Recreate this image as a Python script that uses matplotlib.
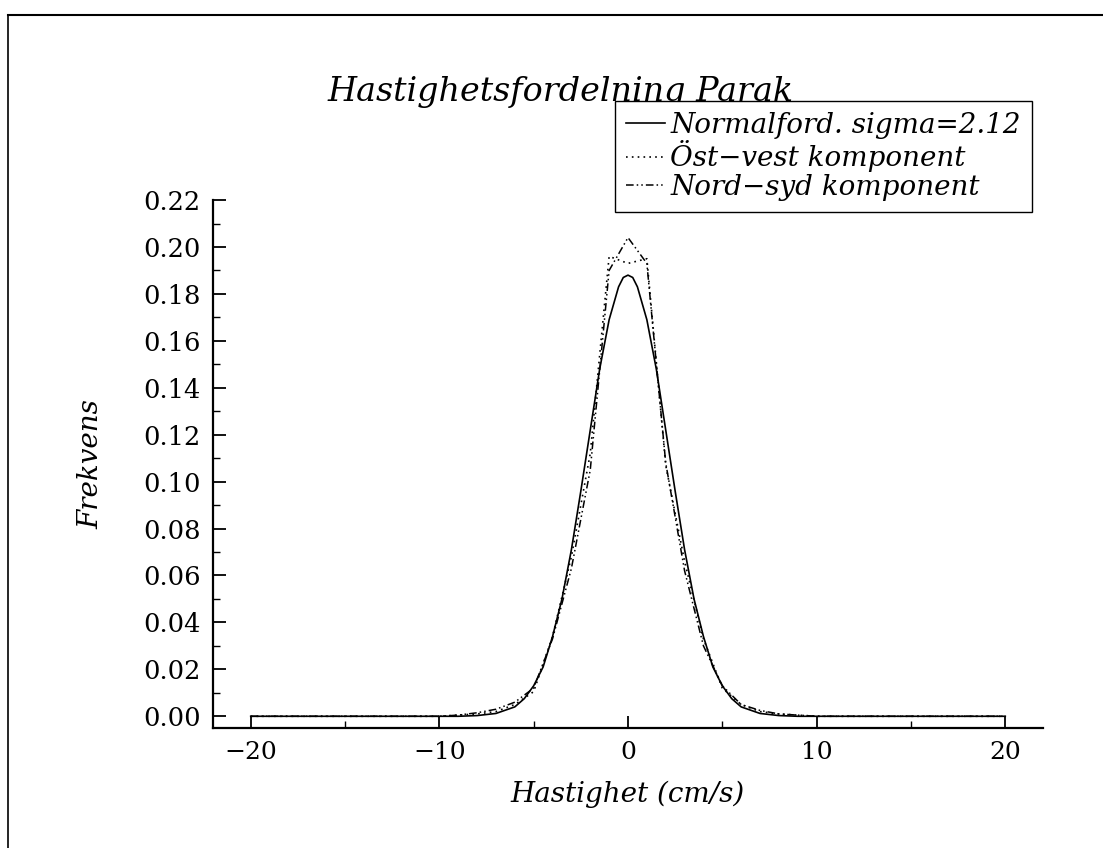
import matplotlib

matplotlib.use("Agg")
import matplotlib.pyplot as plt
from matplotlib.lines import Line2D
from matplotlib.ticker import MultipleLocator, FormatStrFormatter, FuncFormatter

# ---------------------------------------------------------------------------
# Data
# ---------------------------------------------------------------------------
TITLE = "Hastighetsfordelning Parak"
X_LABEL = "Hastighet (cm/s)"
Y_LABEL = "Frekvens"

LABEL_NORMAL = "Normalford. sigma=2.12"
LABEL_EW = "Öst\u2212vest komponent"
LABEL_NS = "Nord\u2212syd komponent"

# fitted normal curve (smooth)
normal_x = [-20, -9, -8, -7, -6, -5.5, -5, -4.5, -4, -3.5, -3, -2.5, -2, -1.5, -1,
            -0.5, -0.25, 0, 0.25, 0.5, 1, 1.5, 2, 2.5, 3, 3.5, 4, 4.5, 5, 5.5,
            6, 7, 8, 9, 20]
normal_y = [0.0, 0.0, 0.0003, 0.0012, 0.004, 0.0075, 0.013, 0.021, 0.034, 0.050,
            0.071, 0.096, 0.122, 0.148, 0.169, 0.183, 0.187, 0.188, 0.187, 0.183,
            0.169, 0.148, 0.122, 0.096, 0.071, 0.050, 0.034, 0.021, 0.013, 0.0075,
            0.004, 0.0012, 0.0003, 0.0, 0.0]

# measured components, 1 cm/s bins
bins_x = [-20, -19, -18, -17, -16, -15, -14, -13, -12, -11, -10, -9, -8, -7, -6,
          -5, -4, -3, -2, -1, 0, 1, 2, 3, 4, 5, 6, 7, 8, 9, 10, 11, 12, 13, 14,
          15, 16, 17, 18, 19, 20]
east_west = [0, 0, 0, 0, 0, 0, 0, 0, 0, 0, 0, 0.0005, 0.001, 0.002, 0.005,
             0.0105, 0.034, 0.068, 0.112, 0.196, 0.193, 0.195, 0.107, 0.066,
             0.033, 0.012, 0.005, 0.002, 0.001, 0.0005, 0, 0, 0, 0, 0, 0, 0, 0,
             0, 0, 0]
north_south = [0, 0, 0, 0, 0, 0, 0, 0, 0, 0, 0, 0.0005, 0.0015, 0.003, 0.006,
               0.012, 0.033, 0.063, 0.105, 0.190, 0.204, 0.193, 0.108, 0.062,
               0.030, 0.013, 0.005, 0.0025, 0.001, 0.0005, 0, 0, 0, 0, 0, 0, 0,
               0, 0, 0, 0]

FONT = "DejaVu Serif"


def main():
    fig = plt.figure(figsize=(11.03, 8.48), dpi=100)
    ax = fig.add_axes([0.1931, 0.1415, 0.7525, 0.6226])

    ax.plot(normal_x, normal_y, color="black", lw=1.2, label=LABEL_NORMAL)
    ax.plot(bins_x, east_west, color="black", lw=1.2, ls=(0, (1, 2.5)), label=LABEL_EW)
    ax.plot(bins_x, north_south, color="black", lw=1.1,
            ls=(0, (5, 2, 1, 2, 1, 2)), label=LABEL_NS)

    ax.set_xlim(-22, 22)
    ax.set_ylim(-0.005, 0.22)
    ax.spines["top"].set_visible(False)
    ax.spines["right"].set_visible(False)
    ax.spines["left"].set_linewidth(1.6)
    ax.spines["bottom"].set_linewidth(1.6)

    ax.xaxis.set_major_locator(MultipleLocator(10))
    ax.xaxis.set_minor_locator(MultipleLocator(5))
    ax.yaxis.set_major_locator(MultipleLocator(0.02))
    ax.yaxis.set_minor_locator(MultipleLocator(0.01))
    ax.tick_params(which="major", direction="in", length=9, width=1.3,
                   labelsize=18)
    ax.tick_params(which="minor", direction="in", length=5, width=1.0)
    ax.tick_params(axis="x", which="major", pad=9)
    ax.tick_params(axis="y", which="major", labelsize=18.5, pad=9)
    ax.set_yticks([0.0, 0.02, 0.04, 0.06, 0.08, 0.10, 0.12, 0.14, 0.16, 0.18, 0.20, 0.22])
    ax.yaxis.set_major_formatter(FormatStrFormatter("%.2f"))
    ax.xaxis.set_major_formatter(
        FuncFormatter(lambda v, p: f"{v:.0f}".replace("-", "\u2212")))
    for lab in ax.get_xticklabels() + ax.get_yticklabels():
        lab.set_family(FONT)

    ax.set_xlabel(X_LABEL, family=FONT, style="italic", fontsize=20, labelpad=12)
    ax.set_ylabel(Y_LABEL, family=FONT, style="italic", fontsize=20, labelpad=28)

    # title sits behind the legend box, as in the original
    fig.text(0.5085, 0.8805, TITLE, family=FONT, style="italic", fontsize=24,
             ha="center", va="baseline", zorder=-1)

    leg = ax.legend(loc="upper right", bbox_to_anchor=(0.9356, 0.8809),
                    bbox_transform=fig.transFigure, borderaxespad=0,
                    prop={"family": FONT, "style": "italic", "size": 20},
                    frameon=True, fancybox=False, handlelength=1.4,
                    handletextpad=0.2, labelspacing=0.05, borderpad=0.4)
    leg.get_frame().set_edgecolor("black")
    leg.get_frame().set_linewidth(1.0)
    leg.get_frame().set_alpha(1)

    # border of the scanned page
    fig.add_artist(Line2D([0.0075, 1.0], [0.982, 0.982], color="black", lw=1.5))
    fig.add_artist(Line2D([0.0075, 0.0075], [0.0, 0.982], color="black", lw=1.2))

    fig.savefig("out.png", dpi=100)


if __name__ == "__main__":
    main()
